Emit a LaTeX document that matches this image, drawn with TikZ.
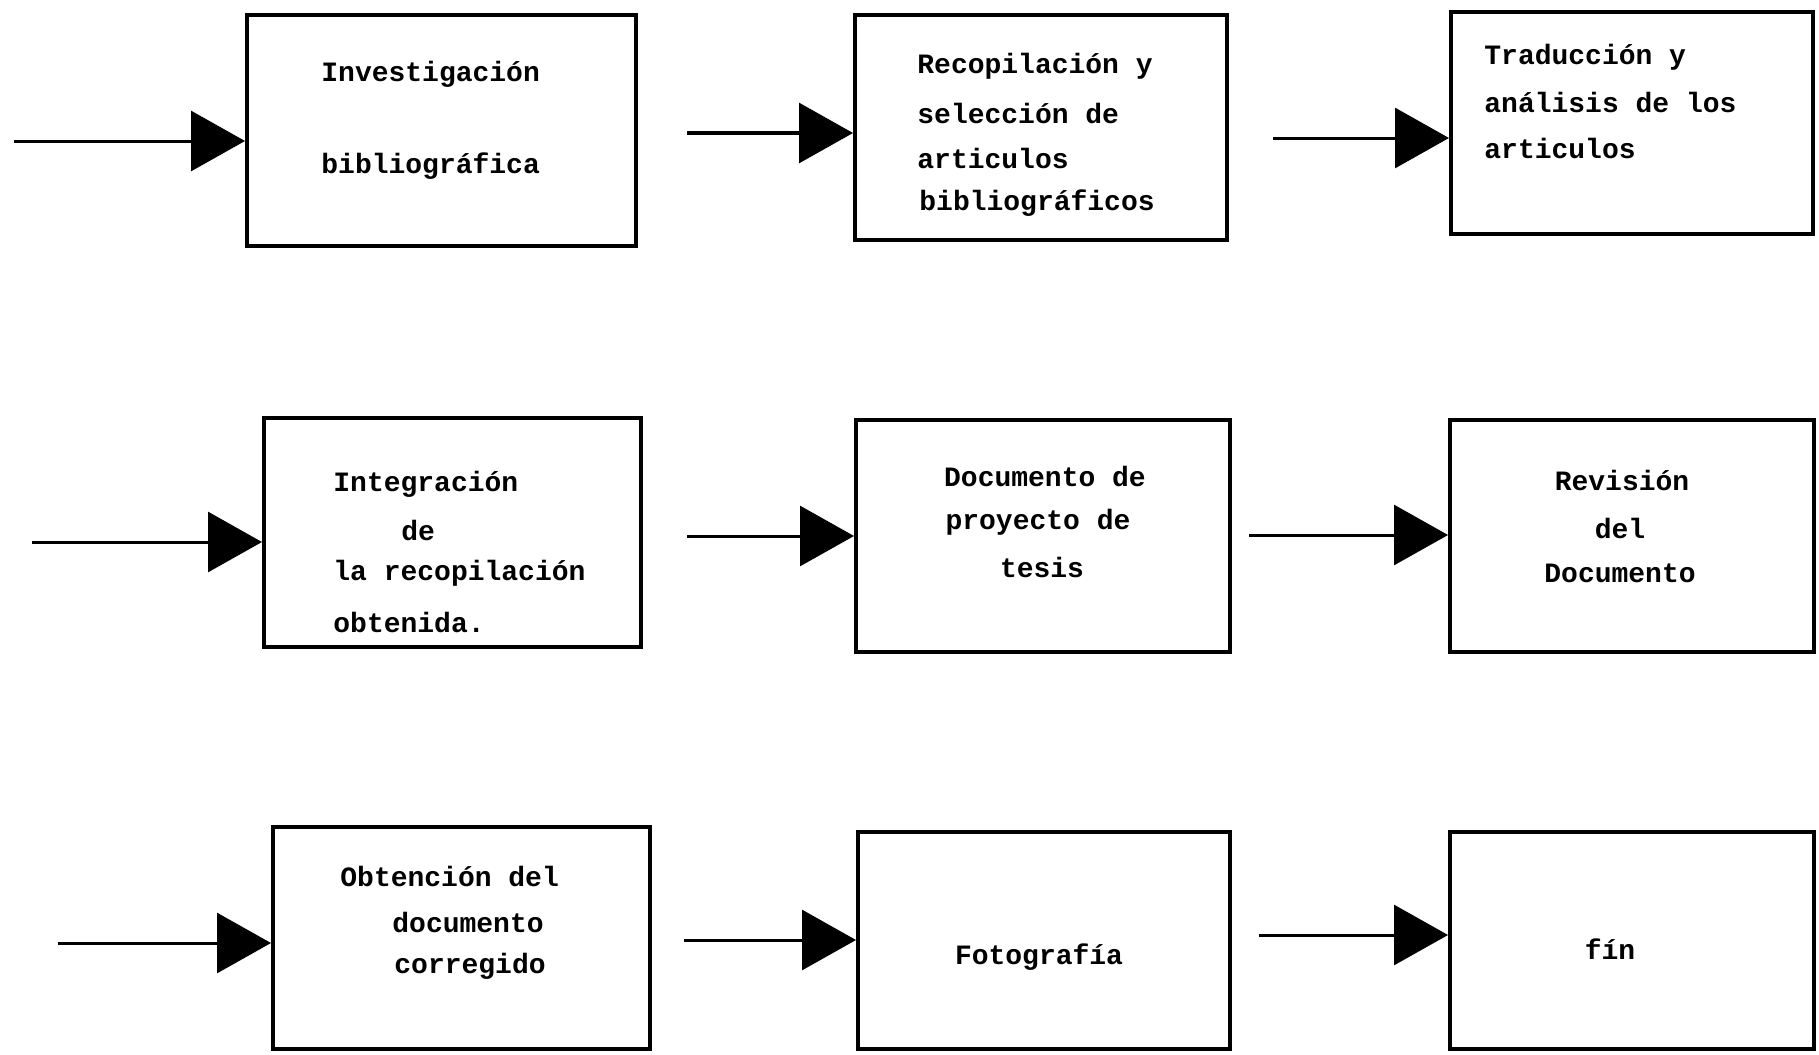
\documentclass[tikz,border=0pt]{standalone}
\usepackage{fontspec}
\setmonofont{Liberation Mono}
\usetikzlibrary{arrows.meta}
\begin{document}
\begin{tikzpicture}[x=0.5pt,y=-0.5pt,
  stagebox/.style={draw, line width=2pt, inner sep=0pt},
  flow/.style={line width=1.5pt, -{Triangle[length=27pt,width=30pt]}},
  txt/.style={anchor=west, inner sep=0pt, font=\ttfamily\bfseries\fontsize{14}{16}\selectfont},
  ctxt/.style={anchor=center, inner sep=0pt, font=\ttfamily\bfseries\fontsize{14}{16}\selectfont}]
\useasboundingbox (0,0) rectangle (1819,1054);

% boxes
\node[stagebox, minimum width=194.5pt, minimum height=115.5pt] (A) at (441.5,130.5) {};
\node[stagebox, minimum width=186pt, minimum height=112.5pt] (B) at (1041,127.5) {};
\node[stagebox, minimum width=181pt, minimum height=111pt] (C) at (1632,123) {};
\node[stagebox, minimum width=188.5pt, minimum height=114.5pt] (D) at (452.5,532.5) {};
\node[stagebox, minimum width=187pt, minimum height=116pt] (E) at (1043,536) {};
\node[stagebox, minimum width=182pt, minimum height=116pt] (F) at (1632,536) {};
\node[stagebox, minimum width=188.5pt, minimum height=111pt] (G) at (461.5,938) {};
\node[stagebox, minimum width=186pt, minimum height=108.5pt] (H) at (1044,940) {};
\node[stagebox, minimum width=182pt, minimum height=108.5pt] (I) at (1632,940) {};

% texts
\node[txt] (a1) at (321,74) {Investigación};
\node[txt] (a2) at (321,166) {bibliográfica};

\node[txt] (b1) at (917,66) {Recopilación y};
\node[txt] (b2) at (917,113) {selección de};
\node[txt] (b3) at (917,158) {articulos};
\node[txt] (b4) at (919,203) {bibliográficos};

\node[txt] (c1) at (1484,57) {Traducción y};
\node[txt] (c2) at (1484,102) {análisis de los};
\node[txt] (c3) at (1484,148) {articulos};

\node[txt] (d1) at (333,484) {Integración};
\node[txt] (d2) at (401,530) {de};
\node[txt] (d3) at (333,573) {la recopilación};
\node[txt] (d4) at (333,622) {obtenida.};

\node[ctxt] (e1) at (1045,476) {Documento de};
\node[ctxt] (e2) at (1038,522) {proyecto de};
\node[ctxt] (e3) at (1042,567) {tesis};

\node[ctxt] (f1) at (1622,480) {Revisión};
\node[ctxt] (f2) at (1620,528) {del};
\node[ctxt] (f3) at (1620,573) {Documento};

\node[txt] (g1) at (340,876) {Obtención del};
\node[txt] (g2) at (392,922) {documento};
\node[txt] (g3) at (394,966) {corregido};

\node[ctxt] (h1) at (1039,957) {Fotografía};
\node[ctxt] (i1) at (1610,949) {fín};

% arrow start points
\coordinate (s1) at (14,141);
\coordinate (s2) at (687,133);
\coordinate (s3) at (1273,138);
\coordinate (s4) at (32,542);
\coordinate (s5) at (687,536);
\coordinate (s6) at (1249,535);
\coordinate (s7) at (58,943);
\coordinate (s8) at (684,940);
\coordinate (s9) at (1259,935);

\draw[flow] (s1) -- (s1 -| A.west);
\draw[flow] (s2) -- (s2 -| B.west);
\draw[flow] (s3) -- (s3 -| C.west);
\draw[flow] (s4) -- (s4 -| D.west);
\draw[flow] (s5) -- (s5 -| E.west);
\draw[flow] (s6) -- (s6 -| F.west);
\draw[flow] (s7) -- (s7 -| G.west);
\draw[flow] (s8) -- (s8 -| H.west);
\draw[flow] (s9) -- (s9 -| I.west);
\end{tikzpicture}
\end{document}
